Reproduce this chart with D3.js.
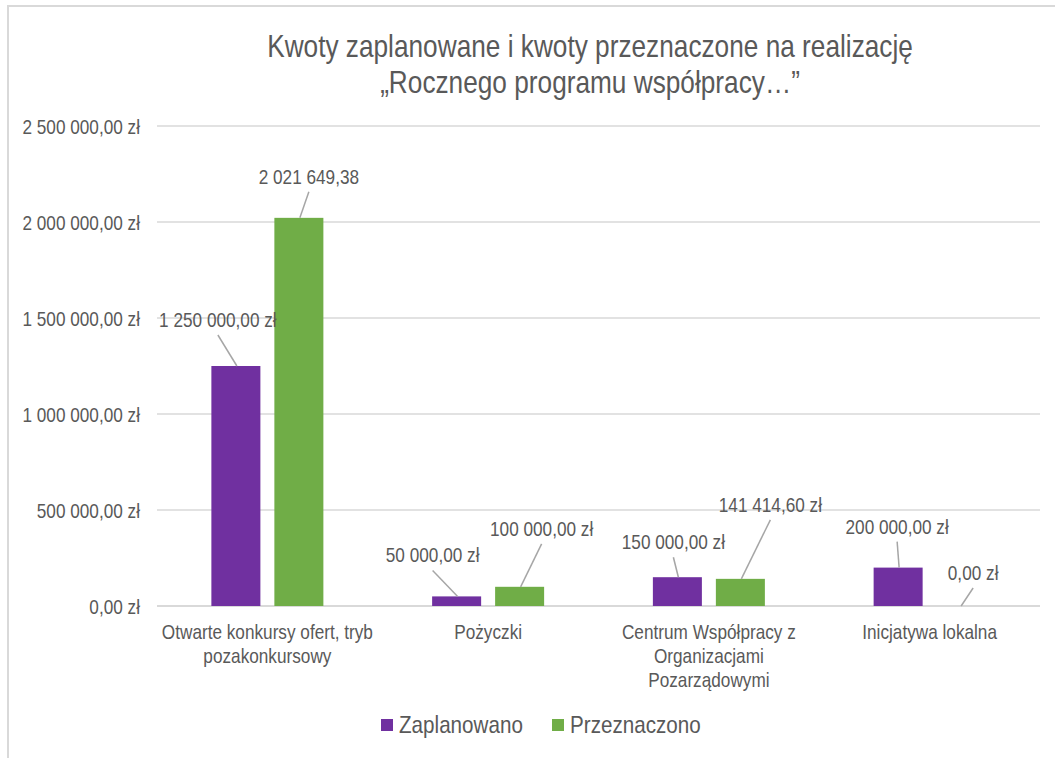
<!DOCTYPE html>
<html>
<head>
<meta charset="utf-8">
<script src="https://cdn.jsdelivr.net/npm/d3@7"></script>
<style>
  body { margin: 0; background: #fff; }
  text { font-family: "Liberation Sans", Arial, sans-serif; fill: #595959; }
</style>
</head>
<body>
<svg id="chart" width="1055" height="758"></svg>
<script>
// chart data
var categories = [
  ['Otwarte konkursy ofert, tryb', 'pozakonkursowy'],
  ['Pożyczki'],
  ['Centrum Współpracy z', 'Organizacjami', 'Pozarządowymi'],
  ['Inicjatywa lokalna']
];
var seriesNames = ['Zaplanowano', 'Przeznaczono'];
var zaplanowano = [1250000, 50000, 150000, 200000];
var przeznaczono = [2021649.38, 100000, 141414.60, 0];
var yTicks = [0, 500000, 1000000, 1500000, 2000000, 2500000];
var colors = ['#7030a0', '#70ad47'];

// where each value label sits relative to the top of its bar [dx, dy]
var labelOffsets = [
  [[-18, -46], [10, -41]],
  [[-24, -41], [22, -58]],
  [[-4, -35], [30, -74]],
  [[-1, -41], [12, -33]]
];

var SX = 0.86; // narrow look (Arial Narrow is not installed)

var svg = d3.select('#chart');

// narrow text helper
function addText(parent, x, y, str, size, anchor) {
  return parent.append('text')
    .attr('transform', 'translate(' + x + ',' + y + ') scale(' + SX + ',1)')
    .attr('text-anchor', anchor || 'middle')
    .style('font-size', size + 'px')
    .text(str);
}

// frame of the chart (light grey border top + left)
svg.append('line').attr('x1', 8).attr('x2', 1055).attr('y1', 6).attr('y2', 6)
  .attr('stroke', '#d9d9d9').attr('stroke-width', 2);
svg.append('line').attr('x1', 8).attr('x2', 8).attr('y1', 5).attr('y2', 758)
  .attr('stroke', '#d9d9d9').attr('stroke-width', 2);

var pl = d3.formatLocale({decimal: ',', thousands: '\u00a0', grouping: [3], currency: ['', ' zł']});
var fmt = pl.format('$,.2f');
var fmtPlain = pl.format(',.2f');

var x0 = d3.scaleBand().domain(d3.range(categories.length)).range([157, 1040]);
var x1 = d3.scaleBand().domain([0, 1]).range([-56, 56]).paddingInner(0.222);
var y = d3.scaleLinear().domain([0, 2500000]).range([606, 126]);

// gridlines
svg.append('g')
  .selectAll('line')
  .data(yTicks)
  .enter()
  .append('line')
  .attr('x1', 157).attr('x2', 1040)
  .attr('y1', function(d) { return y(d); })
  .attr('y2', function(d) { return y(d); })
  .attr('stroke', '#d9d9d9')
  .attr('stroke-width', function(d) { return d === 0 ? 2 : 1.3; });

// y axis labels
var yAxis = d3.axisLeft(y).tickValues(yTicks).tickFormat(fmt).tickSize(0).tickPadding(0);
var gy = svg.append('g').attr('transform', 'translate(140,0)').call(yAxis);
gy.select('.domain').remove();
gy.attr('font-family', null).attr('font-size', null);
gy.selectAll('text')
  .style('font-size', '20px')
  .attr('fill', '#595959')
  .attr('dy', '0.35em')
  .attr('transform', 'scale(' + SX + ',1)');

// bars
var rows = [];
categories.forEach(function(c, i) {
  rows.push({cat: i, s: 0, v: zaplanowano[i]});
  rows.push({cat: i, s: 1, v: przeznaczono[i]});
});

function barX(d) { return x0(d.cat) + x0.bandwidth() / 2 + x1(d.s); }
function barCx(d) { return barX(d) + x1.bandwidth() / 2; }

svg.append('g')
  .selectAll('rect')
  .data(rows.filter(function(d) { return d.v > 0; }))
  .enter()
  .append('rect')
  .attr('x', barX)
  .attr('y', function(d) { return y(d.v); })
  .attr('width', x1.bandwidth())
  .attr('height', function(d) { return y(0) - y(d.v); })
  .attr('fill', function(d) { return colors[d.s]; });

// value labels with leader lines
var lbl = svg.append('g');
rows.forEach(function(d) {
  var off = labelOffsets[d.cat][d.s];
  var lx = barCx(d) + off[0];
  var ly = y(d.v) + off[1];
  // first green bar shows no currency in the source
  var txt = (d.cat === 0 && d.s === 1) ? fmtPlain(d.v) : fmt(d.v);
  lbl.append('line')
    .attr('x1', lx).attr('y1', ly + 15)
    .attr('x2', barCx(d) + (d.v === 0 ? 0 : 1)).attr('y2', y(d.v))
    .attr('stroke', '#a6a6a6').attr('stroke-width', 1.5);
  addText(lbl, lx, ly, txt, 20).attr('dy', '0.35em');
});

// category labels
var cat = svg.append('g');
categories.forEach(function(lines, i) {
  lines.forEach(function(l, j) {
    addText(cat, x0(i) + x0.bandwidth() / 2, 639 + j * 24, l, 20);
  });
});

// title
addText(svg, 590, 57, 'Kwoty zaplanowane i kwoty przeznaczone na realizację', 30.5);
addText(svg, 590, 93, '„Rocznego programu współpracy…”', 30.5);

// legend
var legX = [381, 552];
var leg = svg.append('g');
seriesNames.forEach(function(n, i) {
  leg.append('rect').attr('x', legX[i]).attr('y', 719).attr('width', 12).attr('height', 12).attr('fill', colors[i]);
  addText(leg, legX[i] + 18, 725, n, 24, 'start').attr('dy', '0.35em');
});
</script>
</body>
</html>
